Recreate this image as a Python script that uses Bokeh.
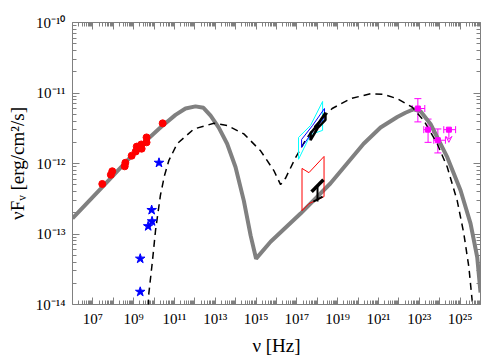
import numpy as np
from bokeh.plotting import figure
from bokeh.models import (FixedTicker, LogAxis, CustomJSTickFormatter, Whisker, TeeHead,
                          Arrow, VeeHead, ColumnDataSource)
from bokeh.embed import file_html
from bokeh.resources import INLINE

# ---------------- data (log10 values) ----------------
radio_lognu = [7.46, 7.88, 7.95, 8.56, 8.59, 8.90, 9.10, 9.15, 9.37, 9.39, 9.63, 9.63, 10.42]
radio_logF = [-12.29, -12.16, -12.11, -12.04, -11.99, -11.89, -11.83, -11.76, -11.73, -11.79, -11.70, -11.63, -11.43]

star_lognu = [10.24, 9.88, 9.90, 9.71, 9.32, 9.32]
star_logF = [-11.99, -12.66, -12.82, -12.89, -13.35, -13.82]

solid_lognu = [6.0, 7.47, 9.63, 10.31, 11.05, 11.54, 12.03, 12.42, 12.77, 13.17, 13.58, 13.99, 14.40,
               14.73, 15.0, 15.71, 17.18, 18.65, 20.27, 21.10, 21.92, 22.32, 22.72, 23.06, 23.55,
               24.37, 25.02, 25.51, 25.84, 26.0]
solid_logF = [-12.78, -12.33, -11.67, -11.49, -11.31, -11.22, -11.19, -11.21, -11.32, -11.49, -11.72,
              -12.05, -12.53, -13.02, -13.35, -13.11, -12.71, -12.28, -11.72, -11.49, -11.34, -11.28,
              -11.23, -11.26, -11.44, -11.91, -12.38, -12.85, -13.33, -13.83]

dash_lognu = [9.71, 9.74, 9.92, 10.07, 10.31, 10.51, 10.72, 11.13, 11.95, 12.93, 13.58, 14.40, 15.22,
              15.87, 16.20, 16.44, 16.93, 17.42, 17.91, 18.73, 19.63, 20.61, 21.25, 21.92, 22.65,
              23.22, 23.88, 24.37, 24.86, 25.18, 25.43, 25.59, 25.63]
dash_logF = [-14.03, -13.85, -13.38, -12.95, -12.45, -12.17, -11.96, -11.72, -11.51, -11.43, -11.46,
             -11.58, -11.82, -12.10, -12.30, -12.21, -11.92, -11.67, -11.46, -11.22, -11.08, -11.01,
             -11.02, -11.08, -11.20, -11.39, -11.72, -12.05, -12.53, -12.99, -13.47, -13.94, -14.03]

gam_lognu = [22.93, 23.43, 23.91]
gam_lognu_lo = [22.65, 23.22, 23.71]
gam_lognu_hi = [23.27, 23.65, 24.28]
gam_logF = [-11.22, -11.52, -11.67]
gam_logF_lo = [-11.41, -11.70, -11.85]
gam_logF_hi = [-11.08, -11.37, -11.51]

ul_lognu = [24.45]
ul_lognu_lo = [24.20]
ul_lognu_hi = [24.78]
ul_logF = [-11.52]
ul_logF_end = [-11.70]

cyan_lognu = [17.08, 17.67, 18.26, 18.26, 17.67, 17.08]
cyan_logF = [-11.63, -11.46, -11.12, -11.53, -11.59, -11.94]
blue_lognu = [17.23, 17.77, 18.35, 18.35, 17.77, 17.23]
blue_logF = [-11.66, -11.46, -11.22, -11.35, -11.55, -11.77]
blk1_lognu = [17.67, 18.01, 18.40, 18.40, 18.01, 17.67]
blk1_logF = [-11.57, -11.45, -11.28, -11.38, -11.50, -11.67]
red_lognu = [17.25, 17.59, 18.33, 18.33, 17.59, 17.25]
red_logF = [-12.07, -12.13, -11.90, -12.47, -12.57, -12.67]
# lower black bowtie: upper edge, stem, foot
blk2_lognu = [[17.72, 18.30], [18.01, 18.01], [17.81, 18.26]]
blk2_logF = [[-12.40, -12.23], [-12.33, -12.54], [-12.54, -12.47]]
blk2_width = [3.5, 2, 2]

def P(a):
    return list(np.power(10.0, np.array(a, dtype=float)))

FONT = "Liberation Serif"
GREY = "#808080"
MAG = "#ff00ff"

p = figure(width=485, height=359, x_axis_type="log", y_axis_type="log",
           x_range=(1e6, 1e26), y_range=(1e-14, 1e-10),
           output_backend="svg", toolbar_location=None,
           min_border_left=72, min_border_right=5, min_border_top=22, min_border_bottom=55)
p.grid.visible = False
p.outline_line_color = GREY
p.outline_line_width = 1
p.background_fill_color = "white"
p.border_fill_color = "white"

xmaj = [10.0 ** k for k in range(6, 27)]
xmin = [m * 10.0 ** k for k in range(6, 26) for m in range(2, 10)]
ymaj = [10.0 ** k for k in range(-14, -9)]
ymin = [m * 10.0 ** k for k in range(-14, -10) for m in range(2, 10)]

SUP = """
const sup = {'-':'\u207b','0':'\u2070','1':'\u00b9','2':'\u00b2','3':'\u00b3','4':'\u2074',
             '5':'\u2075','6':'\u2076','7':'\u2077','8':'\u2078','9':'\u2079'};
const e = Math.round(Math.log10(tick));
"""
xfmt = CustomJSTickFormatter(code=SUP + """
if (Math.abs(e) % 2 == 0) { return ''; }
return '10' + String(e).split('').map(c => sup[c]).join('');
""")
yfmt = CustomJSTickFormatter(code=SUP + """
return '10' + String(e).split('').map(c => sup[c]).join('');
""")
blank = CustomJSTickFormatter(code="return '';")

def style(ax, ticks, minors, fmt):
    ax.ticker = FixedTicker(ticks=ticks, minor_ticks=minors)
    ax.formatter = fmt
    ax.axis_line_color = None
    ax.major_tick_line_color = GREY
    ax.minor_tick_line_color = GREY
    ax.major_tick_in = 7
    ax.major_tick_out = 0
    ax.minor_tick_in = 4
    ax.minor_tick_out = 0
    ax.major_label_text_font = FONT
    ax.major_label_text_font_size = "15px"
    ax.major_label_text_color = "black"
    ax.axis_label_text_font = FONT
    ax.axis_label_text_font_size = "19px"
    ax.axis_label_text_font_style = "normal"
    ax.axis_label_text_color = "black"

style(p.xaxis[0], xmaj, xmin, xfmt)
style(p.yaxis[0], ymaj, ymin, yfmt)
p.xaxis[0].major_label_standoff = 6
p.yaxis[0].major_label_standoff = 7
p.xaxis[0].axis_label = "\u03bd [Hz]"
p.xaxis[0].axis_label_standoff = 5
p.yaxis[0].axis_label = "\u03bdF\u1d65 [erg/cm\u00b2/s]"
p.yaxis[0].axis_label_standoff = 5

top = LogAxis()
style(top, xmaj, xmin, blank)
top.major_label_standoff = 0
top.major_label_text_font_size = "0px"
p.add_layout(top, "above")
right = LogAxis()
style(right, ymaj, ymin, blank)
right.major_label_standoff = 0
right.major_label_text_font_size = "0px"
p.add_layout(right, "right")

# model curves
p.line(P(solid_lognu), P(solid_logF), line_color=GREY, line_width=4)
p.line(P(dash_lognu), P(dash_logF), line_color="black", line_width=1.5, line_dash="7 5")

# X-ray bowties
p.patch(P(cyan_lognu), P(cyan_logF), fill_color=None, line_color="#00ffff", line_width=1)
p.patch(P(blue_lognu), P(blue_logF), fill_color=None, line_color="#0000ff", line_width=1)
p.patch(P(blk1_lognu), P(blk1_logF), fill_color=None, line_color="black", line_width=2.5)
p.patch(P(red_lognu), P(red_logF), fill_color=None, line_color="#ff0000", line_width=1)
p.multi_line([P(a) for a in blk2_lognu], [P(a) for a in blk2_logF], line_color="black",
             line_width=blk2_width)

# radio points
p.scatter(P(radio_lognu), P(radio_logF), marker="circle", size=7, fill_color="#ff0000", line_color="#ff0000")
# stars
p.scatter(P(star_lognu), P(star_logF), marker="star", size=10, fill_color="#0000ff", line_color="#0000ff")

# gamma-ray points
gsrc = ColumnDataSource(dict(x=P(gam_lognu), xlo=P(gam_lognu_lo), xhi=P(gam_lognu_hi),
                             y=P(gam_logF), ylo=P(gam_logF_lo), yhi=P(gam_logF_hi)))
p.add_layout(Whisker(source=gsrc, base="x", lower="ylo", upper="yhi", dimension="height",
                     line_color=MAG, line_width=1,
                     upper_head=TeeHead(size=7, line_color=MAG), lower_head=TeeHead(size=7, line_color=MAG)))
p.add_layout(Whisker(source=gsrc, base="y", lower="xlo", upper="xhi", dimension="width",
                     line_color=MAG, line_width=1,
                     upper_head=TeeHead(size=7, line_color=MAG), lower_head=TeeHead(size=7, line_color=MAG)))
p.scatter("x", "y", source=gsrc, marker="square", size=5, fill_color=MAG, line_color=MAG)

usrc = ColumnDataSource(dict(x=P(ul_lognu), xlo=P(ul_lognu_lo), xhi=P(ul_lognu_hi),
                             y=P(ul_logF), yend=P(ul_logF_end)))
p.add_layout(Whisker(source=usrc, base="y", lower="xlo", upper="xhi", dimension="width",
                     line_color=MAG, line_width=1,
                     upper_head=TeeHead(size=7, line_color=MAG), lower_head=TeeHead(size=7, line_color=MAG)))
p.add_layout(Arrow(source=usrc, x_start="x", y_start="y", x_end="x", y_end="yend",
                   line_color=MAG, line_width=1,
                   end=VeeHead(size=6, line_color=MAG, fill_color=None)))
p.scatter("x", "y", source=usrc, marker="square", size=5, fill_color=MAG, line_color=MAG)

open("out.html", "w").write(file_html(p, INLINE))
